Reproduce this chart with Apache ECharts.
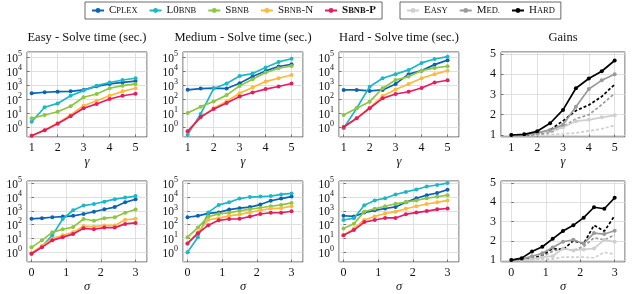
<!DOCTYPE html>
<html><head><meta charset="utf-8">
<script src="https://cdn.jsdelivr.net/npm/echarts@6/dist/echarts.min.js"></script>
<style>html,body{margin:0;padding:0;background:#fff}#c{width:640px;height:294px}</style>
</head><body><div id="c"></div>
<script>
// ---------- data ----------
const gammaVals = [1, 1.5, 2, 2.5, 3, 3.5, 4, 4.5, 5];
const sigmaVals = [0, 0.3, 0.6, 0.9, 1.2, 1.5, 1.8, 2.1, 2.4, 2.7, 3.0];
const methods = ['Cplex', 'L0bnb', 'Sbnb', 'Sbnb-N', 'Sbnb-P'];
const levels = ['Easy', 'Med.', 'Hard'];
const panelTitles = ['Easy - Solve time (sec.)', 'Medium - Solve time (sec.)', 'Hard - Solve time (sec.)', 'Gains'];
const logTickLabels = ['10^0', '10^1', '10^2', '10^3', '10^4', '10^5'];

// solve times (seconds) vs gamma
const easyGammaCplex  = [270, 320, 350, 370, 470, 850, 1260, 1600, 2000];
const easyGammaL0bnb  = [2.5, 27, 51, 180, 420, 950, 1600, 2400, 3200];
const easyGammaSbnb   = [4.4, 7.6, 13, 32, 140, 240, 620, 950, 1260];
const easyGammaSbnbN  = [0.25, 0.63, 2.0, 7.6, 35, 80, 180, 370, 620];
const easyGammaSbnbP  = [0.25, 0.63, 1.8, 6.2, 23, 47, 105, 180, 250];

const medGammaCplex   = [480, 590, 630, 590, 1400, 4300, 10700, 22000, 32000];
const medGammaL0bnb   = [0.3, 9, 590, 1350, 4700, 6900, 18600, 47000, 79000];
const medGammaSbnb    = [10.5, 30, 71, 200, 910, 2750, 8100, 16600, 24000];
const medGammaSbnbN   = [0.52, 5.1, 23, 71, 275, 690, 1860, 3200, 5500];
const medGammaSbnbP   = [0.52, 5.4, 20, 54, 160, 310, 540, 830, 1350];

const hardGammaCplex  = [470, 470, 400, 470, 1260, 6300, 11200, 30000, 63000];
const hardGammaL0bnb  = [0.85, 23, 800, 3200, 6300, 12600, 40000, 76000, 112000];
const hardGammaSbnb   = [7.6, 23, 68, 620, 2400, 4200, 11200, 17400, 23000];
const hardGammaSbnbN  = [1.0, 4.4, 25, 170, 510, 1260, 3200, 6300, 11200];
const hardGammaSbnbP  = [1.05, 4.4, 23, 118, 240, 350, 650, 1600, 2300];

// solve times (seconds) vs sigma
const easySigmaCplex  = [270, 300, 350, 390, 440, 600, 870, 1320, 1900, 4200, 7100];
const easySigmaL0bnb  = [0.8, 2.6, 17, 260, 1120, 2450, 3200, 4700, 7100, 9300, 12000];
const easySigmaSbnb   = [2.3, 7.4, 28, 47, 68, 260, 195, 300, 350, 740, 1260];
const easySigmaSbnbN  = [0.9, 2.9, 9.8, 17, 28, 80, 72, 89, 89, 230, 270];
const easySigmaSbnbP  = [0.8, 2.3, 7.4, 12.6, 21, 55, 47, 62, 62, 115, 135];

const medSigmaCplex   = [350, 440, 660, 780, 1260, 1600, 1900, 2900, 5500, 7900, 11000];
const medSigmaL0bnb   = [1.0, 12.6, 780, 2750, 4200, 7900, 10200, 11000, 12000, 15800, 18600];
const medSigmaSbnb    = [12.6, 62, 390, 600, 740, 1000, 1320, 1700, 2200, 2750, 3800];
const medSigmaSbnbN   = [4.4, 28, 230, 300, 440, 560, 780, 1120, 1480, 1600, 2200];
const medSigmaSbnbP   = [4.4, 24, 93, 210, 260, 270, 390, 600, 740, 740, 950];

const hardSigmaCplex  = [450, 400, 760, 1100, 1500, 1950, 4200, 8300, 14000, 20000, 35000];
const hardSigmaL0bnb  = [220, 300, 2600, 5800, 8300, 15500, 24000, 36000, 59000, 76000, 105000];
const hardSigmaSbnb   = [54, 118, 890, 1450, 2200, 3300, 4400, 5800, 8300, 10700, 14000];
const hardSigmaSbnbN  = [17, 54, 220, 400, 650, 890, 1450, 2200, 3200, 4200, 5800];
const hardSigmaSbnbP  = [17, 41, 155, 220, 310, 310, 580, 760, 980, 1300, 1500];

// gains vs gamma (solid = with markers, dashed = second variant)
const gainGammaEasy      = [1.0, 1.0, 1.08, 1.2, 1.38, 1.68, 1.75, 1.87, 1.97];
const gainGammaMed       = [1.0, 1.02, 1.1, 1.25, 1.5, 2.4, 3.27, 3.7, 4.0];
const gainGammaHard      = [1.0, 1.03, 1.18, 1.58, 2.24, 3.31, 3.79, 4.15, 4.68];
const gainGammaEasyDash  = [1.0, 1.0, 1.0, 1.02, 1.05, 1.1, 1.2, 1.3, 1.48];
const gainGammaMedDash   = [1.0, 1.0, 1.03, 1.12, 1.4, 1.8, 2.0, 2.5, 3.05];
const gainGammaHardDash  = [1.0, 1.0, 1.05, 1.25, 1.7, 2.2, 2.48, 2.9, 3.5];

// gains vs sigma
const gainSigmaEasy      = [1.0, 1.02, 1.05, 1.15, 1.2, 1.6, 1.5, 1.55, 1.6, 2.05, 1.95];
const gainSigmaMed       = [1.0, 1.05, 1.2, 1.35, 1.65, 1.95, 2.05, 1.85, 2.4, 2.35, 2.52];
const gainSigmaHard      = [1.0, 1.1, 1.44, 1.69, 2.1, 2.51, 2.8, 3.2, 3.74, 3.66, 4.23];
const gainSigmaEasyDash  = [1.0, 1.0, 1.02, 1.05, 1.05, 1.15, 1.15, 1.15, 1.12, 1.4, 1.3];
const gainSigmaMedDash   = [1.0, 1.02, 1.05, 1.2, 1.45, 1.6, 1.5, 1.7, 2.15, 2.05, 2.3];
const gainSigmaHardDash  = [1.0, 1.05, 1.08, 1.25, 1.6, 1.55, 2.0, 1.85, 2.8, 2.5, 3.3];

// ---------- styling / layout ----------
const FONT = 'Liberation Serif';
const methodColors = ['#0B63B5', '#1BB8C9', '#8DC63F', '#FDB93A', '#EA1A60'];
const levelColors = ['#cfcfcf', '#9a9a9a', '#000000'];
const lefts = [27, 183, 339, 501];
const widths = [120, 120, 120, 124];
const rowTop = [52, 181];
const rowH = [85, 86];
const logRange = [[Math.pow(10, -0.69), Math.pow(10, 5.38)], [Math.pow(10, -0.70), Math.pow(10, 5.17)]];
const xRangeSolve = [[0.82, 5.44], [-0.13, 3.33]];
const xRangeGain = [[0.6, 5.4], [-0.3, 3.3]];
const gainRange = [0.9, 5.1];

const solveData = [
  [[easyGammaCplex, easyGammaL0bnb, easyGammaSbnb, easyGammaSbnbN, easyGammaSbnbP],
   [medGammaCplex, medGammaL0bnb, medGammaSbnb, medGammaSbnbN, medGammaSbnbP],
   [hardGammaCplex, hardGammaL0bnb, hardGammaSbnb, hardGammaSbnbN, hardGammaSbnbP]],
  [[easySigmaCplex, easySigmaL0bnb, easySigmaSbnb, easySigmaSbnbN, easySigmaSbnbP],
   [medSigmaCplex, medSigmaL0bnb, medSigmaSbnb, medSigmaSbnbN, medSigmaSbnbP],
   [hardSigmaCplex, hardSigmaL0bnb, hardSigmaSbnb, hardSigmaSbnbN, hardSigmaSbnbP]]
];
const gainData = [
  [[gainGammaEasy, gainGammaMed, gainGammaHard], [gainGammaEasyDash, gainGammaMedDash, gainGammaHardDash]],
  [[gainSigmaEasy, gainSigmaMed, gainSigmaHard], [gainSigmaEasyDash, gainSigmaMedDash, gainSigmaHardDash]]
];
const xsRow = [gammaVals, sigmaVals];
const xNames = ['γ', 'σ'];

const grids = [], xAxes = [], yAxes = [], series = [];
const gridLine = {show: true, lineStyle: {color: '#d8d8d8', width: 0.8}};
const tick = {show: true, inside: true, length: 2.5, lineStyle: {color: '#555', width: 0.8}};
const lblBase = {fontFamily: FONT, fontSize: 12, color: '#111'};

for (let r = 0; r < 2; r++) {
  for (let p = 0; p < 4; p++) {
    const gi = grids.length;
    grids.push({left: lefts[p], top: rowTop[r], width: widths[p], height: rowH[r], show: true,
      borderColor: '#444', borderWidth: 0.9, backgroundColor: 'transparent'});
    const xr = p < 3 ? xRangeSolve[r] : xRangeGain[r];
    xAxes.push({type: 'value', gridIndex: gi, min: xr[0], max: xr[1], minInterval: 1, maxInterval: 1,
      axisLine: {show: false}, axisTick: tick, splitLine: gridLine,
      axisLabel: Object.assign({margin: 5, showMinLabel: false, showMaxLabel: false}, lblBase),
      name: xNames[r], nameLocation: 'middle', nameGap: 18,
      nameTextStyle: {fontFamily: FONT, fontStyle: 'italic', fontSize: 12.5, color: '#111'}});
    if (p < 3) {
      yAxes.push({type: 'log', logBase: 10, gridIndex: gi, min: logRange[r][0], max: logRange[r][1],
        axisLine: {show: false}, axisTick: tick, splitLine: gridLine,
        axisLabel: {margin: 5, showMinLabel: false, showMaxLabel: false,
          formatter: v => {
            const e = Math.round(Math.log10(v));
            const t = logTickLabels[e];
            if (!t) return '';
            const parts = t.split('^');
            return '{b|' + parts[0] + '}{s|' + parts[1] + '}';
          },
          rich: {b: {fontFamily: FONT, fontSize: 11.5, color: '#111', lineHeight: 15, verticalAlign: 'bottom'},
                 s: {fontFamily: FONT, fontSize: 8, color: '#111', lineHeight: 9, verticalAlign: 'top'}}}});
      const d = solveData[r][p];
      methods.forEach((m, k) => {
        series.push({type: 'line', name: m, xAxisIndex: gi, yAxisIndex: gi,
          data: xsRow[r].map((x, j) => [x, d[k][j]]),
          symbol: 'circle', symbolSize: 4, showSymbol: true,
          lineStyle: {color: methodColors[k], width: 1.7}, itemStyle: {color: methodColors[k]},
          z: 2 + k, silent: true});
      });
    } else {
      yAxes.push({type: 'value', gridIndex: gi, min: gainRange[0], max: gainRange[1], minInterval: 1, maxInterval: 1,
        axisLine: {show: false}, axisTick: tick, splitLine: gridLine,
        axisLabel: Object.assign({margin: 5, showMinLabel: false, showMaxLabel: false}, lblBase)});
      const g = gainData[r];
      levels.forEach((lv, k) => {
        series.push({type: 'line', name: lv + ' (dashed)', xAxisIndex: gi, yAxisIndex: gi,
          data: xsRow[r].map((x, j) => [x, g[1][k][j]]),
          symbol: 'none', lineStyle: {color: levelColors[k], width: 1.7, type: [3, 2]}, z: 2 + k, silent: true});
      });
      levels.forEach((lv, k) => {
        series.push({type: 'line', name: lv, xAxisIndex: gi, yAxisIndex: gi,
          data: xsRow[r].map((x, j) => [x, g[0][k][j]]),
          symbol: 'circle', symbolSize: 4,
          lineStyle: {color: levelColors[k], width: 1.7}, itemStyle: {color: levelColors[k]}, z: 6 + k, silent: true});
      });
    }
  }
}

const titles = panelTitles.map((t, p) => ({
  text: t, left: lefts[p] + widths[p] / 2, top: 31, textAlign: 'center', padding: 0,
  textStyle: {fontFamily: FONT, fontSize: 12.5, fontWeight: 'normal', color: '#111'}
}));

const richLegend = {
  u: {fontFamily: FONT, fontSize: 11, color: '#111'},
  s: {fontFamily: FONT, fontSize: 8.5, color: '#111'},
  ub: {fontFamily: FONT, fontSize: 11, color: '#111', fontWeight: 'bold'},
  sb: {fontFamily: FONT, fontSize: 8.5, color: '#111', fontWeight: 'bold'}
};
const methodLabel = {
  'Cplex': '{u|C}{s|PLEX}', 'L0bnb': '{u|L0}{s|BNB}', 'Sbnb': '{u|S}{s|BNB}',
  'Sbnb-N': '{u|S}{s|BNB}{u|-N}', 'Sbnb-P': '{ub|S}{sb|BNB}{ub|-P}'
};
const levelLabel = {'Easy': '{u|E}{s|ASY}', 'Med.': '{u|M}{s|ED.}', 'Hard': '{u|H}{s|ARD}'};

const legends = [
  {data: methods, left: 85, top: 2, itemWidth: 12, itemHeight: 6, itemGap: 11,
   padding: [3, 6, 3, 6], borderColor: '#444', borderWidth: 0.8, selectedMode: false,
   formatter: n => methodLabel[n], textStyle: {fontFamily: FONT, fontSize: 11, color: '#111', rich: richLegend}},
  {data: levels, left: 400, top: 2, itemWidth: 12, itemHeight: 6, itemGap: 11,
   padding: [3, 6, 3, 6], borderColor: '#444', borderWidth: 0.8, selectedMode: false,
   formatter: n => levelLabel[n], textStyle: {fontFamily: FONT, fontSize: 11, color: '#111', rich: richLegend}}
];

const chart = echarts.init(document.getElementById('c'), null, {renderer: 'canvas'});
chart.setOption({
  animation: false, backgroundColor: '#fff',
  title: titles, legend: legends, grid: grids, xAxis: xAxes, yAxis: yAxes, series: series
});
</script></body></html>
